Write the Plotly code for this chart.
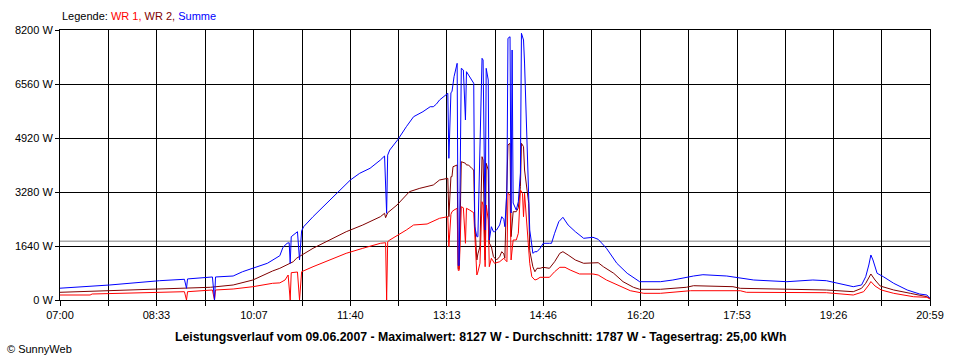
import plotly.graph_objects as go

# ---------------- data ----------------
tick_labels = ["07:00", "08:33", "10:07", "11:40", "13:13", "14:46",
               "16:20", "17:53", "19:26", "20:59"]
y_ticks = [0, 1640, 3280, 4920, 6560, 8200]
average_w = 1787

t_sum = ["07:00", "07:48", "08:36", "09:00", "09:02", "09:03", "09:27", "09:29", "09:30",
         "09:47", "09:56", "10:06", "10:20", "10:32", "10:35", "10:39", "10:41", "10:42",
         "10:43", "10:49", "10:51", "10:53", "10:55", "11:04", "11:20", "11:30", "11:40",
         "11:49", "11:59", "12:09", "12:13", "12:15", "12:16", "12:18", "12:26", "12:34",
         "12:41", "12:50", "12:57", "13:00", "13:03", "13:06", "13:13", "13:14", "13:15",
         "13:17", "13:18", "13:20", "13:23", "13:24", "13:25", "13:27", "13:29", "13:31",
         "13:32", "13:35", "13:39", "13:40", "13:42", "13:43", "13:45", "13:47", "13:48",
         "13:50", "13:51", "13:53", "13:54", "13:56", "13:58", "13:59", "14:01", "14:04",
         "14:06", "14:08", "14:09", "14:11", "14:12", "14:14", "14:15", "14:16", "14:17",
         "14:19", "14:20", "14:22", "14:24", "14:25", "14:26", "14:27", "14:28", "14:30",
         "14:32", "14:33", "14:35", "14:36", "14:38", "14:40", "14:43", "14:46", "14:52",
         "14:54", "14:57", "15:01", "15:05", "15:10", "15:17", "15:25", "15:34", "15:39",
         "15:47", "15:57", "16:07", "16:19", "16:39", "16:51", "17:11", "17:20", "17:43",
         "17:56", "18:09", "18:41", "19:06", "19:19", "19:32", "19:45", "19:53", "19:57",
         "20:00", "20:02", "20:04", "20:08", "20:14", "20:24", "20:37", "20:49", "20:56",
         "20:59"]
summe = [358, 456, 586, 629, 355, 640, 699, 0, 699,
         729, 859, 965, 1115, 1345, 1600, 1722, 1740, 1115,
         1922, 2074, 1215, 2100, 2226, 2530, 3037, 3341, 3644,
         3848, 4000, 4252, 4373, 2633, 4400, 4556, 4880, 5263,
         5567, 5719, 5870, 5870, 5950, 6074, 6277, 6277, 4303,
         6300, 6326, 6782, 7188, 1050, 1050, 7036, 6985, 5467,
         6934, 6782, 6581, 2226, 1922, 1922, 5163, 7340, 7289,
         2126, 7036, 6681, 1822, 2226, 2074, 2074, 2126, 2278,
         2530, 2450, 2226, 3341, 7948, 7996, 2642, 7593, 2946,
         2833, 2733, 2985, 3857, 8100, 7948, 7896, 7197, 5375,
         3644, 2126, 1670, 1418, 1467, 1467, 1570, 1722, 1722,
         1722, 2026, 2378, 2512, 2278, 2074, 1874, 1904, 1843,
         1570, 1115, 811, 556, 556, 607, 729, 768, 729,
         677, 607, 556, 607, 586, 486, 404, 456, 708,
         1063, 1367, 1215, 811, 708, 507, 304, 182, 152,
         50]

t_wr2 = ["07:00", "07:48", "08:36", "09:25", "09:47", "10:06", "10:25", "10:32", "10:45",
         "10:48", "11:04", "11:20", "11:36", "11:52", "12:09", "12:13", "12:14", "12:16",
         "12:25", "12:37", "12:47", "13:00", "13:06", "13:14", "13:15", "13:17", "13:18",
         "13:19", "13:23", "13:24", "13:25", "13:27", "13:31", "13:32", "13:34", "13:37",
         "13:39", "13:40", "13:42", "13:43", "13:45", "13:47", "13:48", "13:50", "13:51",
         "13:53", "13:54", "13:56", "13:58", "14:01", "14:04", "14:06", "14:08", "14:09",
         "14:11", "14:12", "14:14", "14:15", "14:17", "14:20", "14:22", "14:24", "14:25",
         "14:27", "14:28", "14:30", "14:32", "14:33", "14:35", "14:36", "14:38", "14:40",
         "14:43", "14:46", "14:52", "14:57", "15:02", "15:05", "15:10", "15:17", "15:25",
         "15:34", "15:39", "15:44", "15:54", "16:03", "16:13", "16:19", "16:39", "17:04",
         "17:11", "17:49", "17:56", "19:19", "19:45", "19:53", "19:57", "20:02", "20:06",
         "20:11", "20:24", "20:40", "20:56", "20:59"]
wr2 = [234, 282, 325, 386, 456, 607, 881, 963, 1163,
       1266, 1570, 1822, 2074, 2278, 2530, 2633, 2500, 2650,
       2885, 3290, 3392, 3493, 3644, 3696, 2530, 3745, 3745,
       4048, 4100, 950, 950, 4200, 4152, 4100, 4100, 4000,
       3948, 2338, 1215, 1400, 1619, 4352, 4252, 1215, 4152,
       3948, 1731, 1619, 1315, 1215, 1315, 1467, 1400, 1266,
       3137, 4707, 4759, 1922, 2682, 2682, 2800, 3441, 4759,
       4656, 3948, 3341, 2937, 1500, 1215, 1011, 859, 963,
       963, 993, 963, 1163, 1418, 1467, 1367, 1215, 1115,
       1133, 1133, 1011, 811, 556, 386, 325, 325, 386,
       434, 404, 355, 304, 252, 355, 507, 790, 607,
       425, 304, 203, 100, 46]

t_wr1 = ["07:00", "07:29", "07:31", "08:36", "09:00", "09:02", "09:03", "09:27", "09:29",
         "09:30", "09:47", "10:06", "10:25", "10:32", "10:37", "10:40", "10:42", "10:43",
         "10:49", "10:51", "10:53", "11:04", "11:20", "11:36", "11:52", "12:09", "12:14",
         "12:15", "12:16", "12:18", "12:34", "12:41", "12:54", "13:03", "13:06", "13:14",
         "13:15", "13:17", "13:18", "13:20", "13:23", "13:24", "13:25", "13:27", "13:29",
         "13:31", "13:32", "13:35", "13:39", "13:40", "13:42", "13:43", "13:45", "13:47",
         "13:48", "13:50", "13:51", "13:53", "13:54", "13:56", "13:59", "14:04", "14:08",
         "14:11", "14:12", "14:14", "14:15", "14:17", "14:20", "14:22", "14:24", "14:26",
         "14:27", "14:28", "14:30", "14:33", "14:35", "14:38", "14:40", "14:43", "14:52",
         "14:57", "15:02", "15:07", "15:12", "15:21", "15:34", "15:39", "15:47", "15:57",
         "16:10", "16:23", "16:39", "17:08", "17:56", "18:02", "19:19", "19:45", "19:55",
         "20:00", "20:02", "20:06", "20:12", "20:24", "20:43", "20:56", "20:59"]
wr1 = [152, 152, 182, 234, 252, 0, 252, 304, 0,
       304, 334, 404, 507, 520, 607, 759, 0, 829,
       850, 0, 859, 1011, 1215, 1418, 1570, 1722, 1740,
       0, 1771, 1822, 2126, 2278, 2308, 2430, 2481, 2530,
       1619, 2600, 2682, 2733, 2785, 900, 900, 2833, 2800,
       1722, 2785, 2733, 2651, 2000, 759, 850, 1115, 2985,
       2885, 1011, 2885, 2430, 1011, 1266, 1115, 1163, 1266,
       1163, 3240, 3189, 1215, 1822, 1822, 2026, 3341, 3240,
       2530, 3240, 2329, 1115, 708, 607, 629, 689, 689,
       859, 993, 993, 911, 790, 790, 759, 607, 456,
       282, 203, 203, 282, 282, 234, 222, 152, 252,
       456, 560, 425, 304, 203, 100, 82, 30]


def minutes(s):
    h, m = s.split(":")
    return int(h) * 60 + int(m)


tick_vals = [minutes(s) for s in tick_labels]
minor_vals = [(a + b) / 2 for a, b in zip(tick_vals[:-1], tick_vals[1:])]

FONT = "Liberation Sans, Arial, sans-serif"

fig = go.Figure()
for name, ts, vals, col in [("WR 2", t_wr2, wr2, "#800000"),
                            ("WR 1", t_wr1, wr1, "#ff0000"),
                            ("Summe", t_sum, summe, "#0000ff")]:
    fig.add_trace(go.Scatter(x=[minutes(t) for t in ts], y=vals, mode="lines",
                             name=name, line=dict(color=col, width=1),
                             showlegend=False, hoverinfo="skip"))

fig.add_shape(type="line", xref="paper", x0=0, x1=1, yref="y", y0=average_w, y1=average_w,
              line=dict(color="#808080", width=1), layer="below")

fig.update_layout(
    width=960, height=360,
    margin=dict(l=60, r=30, t=30, b=60, autoexpand=False),
    paper_bgcolor="white", plot_bgcolor="white",
    font=dict(family=FONT, size=11, color="black"),
    xaxis=dict(range=[tick_vals[0], tick_vals[-1]], tickmode="array",
               tickvals=tick_vals, ticktext=tick_labels, automargin=False,
               showgrid=True, gridcolor="black", gridwidth=1,
               showline=True, linecolor="black", linewidth=1, mirror=True,
               ticks="outside", ticklen=5, tickcolor="black", zeroline=False,
               minor=dict(tickmode="array", tickvals=minor_vals, showgrid=True,
                          gridcolor="black", gridwidth=1, ticks="outside",
                          ticklen=5, tickcolor="black")),
    yaxis=dict(range=[0, 8200], tickmode="array", tickvals=y_ticks,
               ticktext=[f"{v} W" for v in y_ticks], automargin=False,
               showgrid=True, gridcolor="black", gridwidth=1,
               showline=True, linecolor="black", linewidth=1, mirror=True,
               ticks="outside", ticklen=4, tickcolor="black", zeroline=False),
)

fig.add_annotation(xref="paper", yref="paper", x=0, y=1, yshift=14, xanchor="left",
                   yanchor="middle", showarrow=False, font=dict(size=11),
                   text='Legende: <span style="color:#ff0000">WR 1,</span> '
                        '<span style="color:#800000">WR 2,</span> '
                        '<span style="color:#0000ff">Summe</span>')
fig.add_annotation(xref="paper", yref="paper", x=(480 - 60) / 870, y=0, yshift=-37,
                   xanchor="center", yanchor="middle", showarrow=False,
                   font=dict(size=12.3, family=FONT),
                   text="<b>Leistungsverlauf vom 09.06.2007 - Maximalwert: 8127 W - "
                        "Durchschnitt: 1787 W - Tagesertrag: 25,00 kWh</b>")
fig.add_annotation(xref="paper", yref="paper", x=-55 / 870, y=0, yshift=-49,
                   xanchor="left", yanchor="middle", showarrow=False,
                   font=dict(size=11), text="© SunnyWeb")

fig.write_html("out.html", config={"displayModeBar": False},
               post_script="document.body.style.margin='0';"
                           "document.body.style.overflow='hidden';")
